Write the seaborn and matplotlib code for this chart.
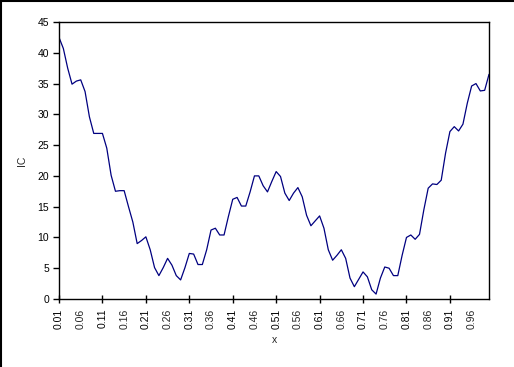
import numpy as np
import matplotlib
matplotlib.use("Agg")
import matplotlib.pyplot as plt
import seaborn as sns
from matplotlib.lines import Line2D

# x categories 0.01 .. 1.00
x = np.round(np.arange(1, 101) / 100, 2)

ic = [
    42.5, 40.7, 37.5, 34.9, 35.4, 35.6, 33.7, 29.6, 26.9, 26.9,
    26.9, 24.5, 20.1, 17.5, 17.6, 17.6, 15.0, 12.5, 9.0, 9.5,
    10.1, 8.0, 5.1, 3.8, 5.1, 6.6, 5.5, 3.8, 3.1, 5.1,
    7.4, 7.3, 5.6, 5.6, 8.0, 11.2, 11.5, 10.4, 10.4, 13.4,
    16.2, 16.5, 15.1, 15.1, 17.4, 20.0, 20.0, 18.4, 17.4, 19.1,
    20.7, 19.9, 17.2, 16.0, 17.2, 18.1, 16.6, 13.6, 11.9, 12.7,
    13.5, 11.5, 8.0, 6.3, 7.1, 8.0, 6.6, 3.4, 2.0, 3.2,
    4.4, 3.6, 1.5, 0.8, 3.4, 5.2, 5.0, 3.8, 3.8, 7.1,
    10.0, 10.4, 9.7, 10.5, 14.5, 18.0, 18.7, 18.6, 19.3, 23.7,
    27.2, 28.0, 27.3, 28.4, 31.8, 34.6, 35.0, 33.8, 33.9, 36.5,
]

major_ticks = x[0::10]
minor_ticks = x[5::10]
y_ticks = list(range(0, 50, 5))

sns.set_style("white")
plt.rcParams['font.family'] = ['Liberation Sans', 'DejaVu Sans']

fig = plt.figure(figsize=(5.14, 3.67), dpi=100)
ax = fig.add_axes([59 / 514, 68 / 367, 430 / 514, 277 / 367])

sns.lineplot(x=x, y=ic, ax=ax, color="#000080", linewidth=0.9)

ax.set_xlim(0.01, 1.00)
ax.set_ylim(0, 45)
ax.set_yticks(y_ticks)
ax.set_yticklabels([str(v) for v in y_ticks], fontsize=7.5)
ax.set_xticks(major_ticks, labels=[f"{v:.2f}" for v in major_ticks], rotation=90, fontsize=7.5)
ax.set_xticks(minor_ticks, labels=[f"{v:.2f}" for v in minor_ticks], minor=True, rotation=90, fontsize=7.5)
ax.tick_params(axis="x", which="major", bottom=True, direction="inout", length=6, width=1, pad=4, colors="black")
ax.tick_params(axis="x", which="minor", bottom=True, length=0, pad=7)
ax.tick_params(axis="y", left=True, direction="out", length=4, width=1, pad=3, colors="black")

for s in ax.spines.values():
    s.set_color("black")
    s.set_linewidth(1.0)

ax.set_xlabel("x", fontsize=7.5, labelpad=4)
ax.set_ylabel("IC", fontsize=7.5, labelpad=8)

# outer chart border (left and top visible)
fig.add_artist(Line2D([0.001, 0.001], [0, 1], transform=fig.transFigure, color="black", linewidth=1.5))
fig.add_artist(Line2D([0, 1], [0.998, 0.998], transform=fig.transFigure, color="black", linewidth=1.5))

fig.savefig("out.png", dpi=100)
